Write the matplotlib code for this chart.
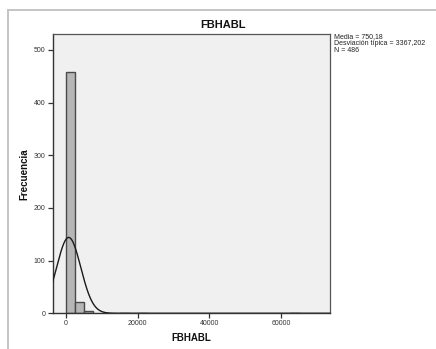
import numpy as np
import matplotlib
matplotlib.use("Agg")
import matplotlib.pyplot as plt
from matplotlib.lines import Line2D

plt.rcParams['font.family'] = ['Liberation Sans', 'DejaVu Sans']

# Histogram of FBHABL (bin width 2500)
bin_width = 2500
bin_lefts = [0, 2500, 5000, 15000, 20000, 62500]
counts = [457, 22, 4, 1, 1, 1]

mean = 750.18
std = 3367.202
n = 486

stats_lines = ["Media = 750,18", "Desviación típica = 3367,202", "N = 486"]
xticks = [0, 20000, 40000, 60000]
yticks = [0, 100, 200, 300, 400, 500]

W, H = 436, 349
fig = plt.figure(figsize=(W / 100, H / 100), dpi=100)
fig.patch.set_facecolor("white")

# outer frame: top and left edges of the chart panel
fx, fy = 7.7 / W, 1 - 10 / H
fig.add_artist(Line2D([fx, 1.0], [fy, fy], transform=fig.transFigure,
                      color="#c4c4c4", linewidth=1.4))
fig.add_artist(Line2D([fx, fx], [0.0, fy], transform=fig.transFigure,
                      color="#c4c4c4", linewidth=1.4))

ax = fig.add_axes([52.5 / W, 1 - 313.3 / H, (330 - 52.5) / W, (313.3 - 34) / H])
ax.set_facecolor("#f0f0f0")

ax.bar(bin_lefts, counts, width=bin_width, align="edge",
       color="#b6b6b6", edgecolor="#4a4a4a", linewidth=1.0, zorder=2)

xlim = (-3768, 73680)
xs = np.linspace(xlim[0], xlim[1], 800)
ys = n * bin_width / (std * np.sqrt(2 * np.pi)) * np.exp(-0.5 * ((xs - mean) / std) ** 2)
ax.plot(xs, ys, color="#1a1a1a", linewidth=1.0, zorder=3)

ax.set_xlim(*xlim)
ax.set_ylim(0, 530)
ax.set_xticks(xticks)
ax.set_xticklabels([str(t) for t in xticks])
ax.set_yticks(yticks)
ax.set_yticklabels([str(t) for t in yticks])
ax.tick_params(axis="both", direction="out", length=3.5, width=0.9,
               color="#333333", labelsize=5, labelcolor="#333333", pad=1.5)
for side in ("left", "bottom"):
    ax.spines[side].set_color("#333333")
    ax.spines[side].set_linewidth(1.0)
for side in ("top", "right"):
    ax.spines[side].set_color("#555555")
    ax.spines[side].set_linewidth(0.9)

fig.text(222.5 / W, 1 - 25 / H, "FBHABL", ha="center", va="center",
         fontsize=8, fontweight="bold", color="#111111")
fig.text(191 / W, 1 - 338 / H, "FBHABL", ha="center", va="center",
         fontsize=7, fontweight="bold", color="#111111")
fig.text(24 / W, 1 - 174 / H, "Frecuencia", ha="center", va="center",
         rotation=90, fontsize=7, fontweight="bold", color="#111111")

fig.text(334 / W, 1 - 33 / H, "\n".join(stats_lines), ha="left", va="top",
         fontsize=5, color="#222222", linespacing=0.95)

fig.savefig("out.png", dpi=100, facecolor="white")
